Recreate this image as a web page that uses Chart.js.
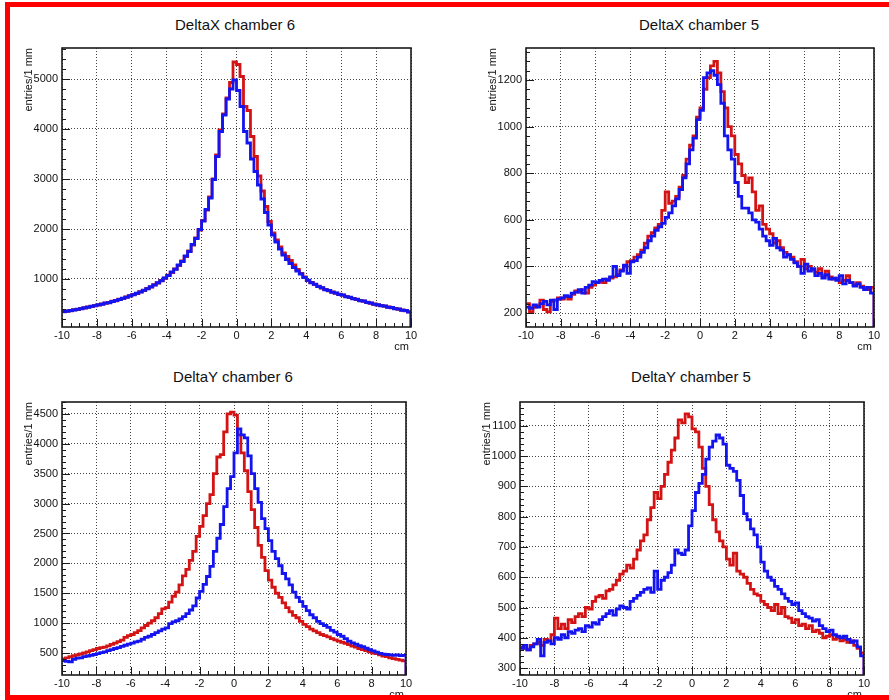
<!DOCTYPE html>
<html>
<head>
<meta charset="utf-8">
<script src="https://cdn.jsdelivr.net/npm/chart.js@4.4.0/dist/chart.umd.min.js"></script>
<style>
  body { margin: 0; background: #fff; width: 889px; height: 700px; overflow: hidden; position: relative;
         font-family: 'Liberation Sans', Arial, sans-serif; }
  .panel { position: absolute; }
  .title { position: absolute; width: 300px; font-size: 15px; line-height: 18px; color: #111; text-align: center; }
  .frame { position: absolute; left: 5px; top: 2px; width: 900px; height: 698px; box-sizing: border-box;
           border: 5px solid #ff0000; z-index: 5; pointer-events: none; }
</style>
</head>
<body>
<div class="frame"></div>
<div class="title" id="t0" style="left:85px;top:16px"></div>
<div class="title" id="t1" style="left:549px;top:16px"></div>
<div class="title" id="t2" style="left:83px;top:368px"></div>
<div class="title" id="t3" style="left:541px;top:368px"></div>
<canvas class="panel" id="c0" width="430" height="324" style="left:10px;top:36px"></canvas>
<canvas class="panel" id="c1" width="444" height="324" style="left:445px;top:36px"></canvas>
<canvas class="panel" id="c2" width="430" height="310" style="left:10px;top:390px"></canvas>
<canvas class="panel" id="c3" width="444" height="310" style="left:445px;top:390px"></canvas>
<script>
// histogram bins: 100 bins from -10 to 10 cm
const binLow = -10;
const binWidth = 0.2;
const xTicks = [-10, -8, -6, -4, -2, 0, 2, 4, 6, 8, 10];

const titles = ['DeltaX chamber 6', 'DeltaX chamber 5', 'DeltaY chamber 6', 'DeltaY chamber 5'];
const yTitle = 'entries/1 mm';
const xTitle = 'cm';

const dx6Ticks = [1000, 2000, 3000, 4000, 5000];
const dx5Ticks = [200, 400, 600, 800, 1000, 1200];
const dy6Ticks = [500, 1000, 1500, 2000, 2500, 3000, 3500, 4000, 4500];
const dy5Ticks = [300, 400, 500, 600, 700, 800, 900, 1000, 1100];

const dx6Red = [345,360,365,385,390,410,420,440,450,470,
  480,500,515,530,555,565,595,610,640,660,
  690,710,745,770,810,840,885,920,970,1015,
  1075,1130,1200,1270,1360,1450,1560,1680,1820,1980,
  2170,2380,2640,3000,3480,3980,4300,4620,4930,5340,
  5290,5050,4450,4370,3850,3450,3060,2760,2450,2150,
  1920,1780,1640,1520,1450,1370,1280,1190,1110,1040,
  970,930,890,855,820,790,765,740,715,695,
  675,650,630,610,590,570,555,535,515,500,
  480,470,455,440,425,410,395,380,365,345];
const dx6Blue = [350,355,370,380,395,405,425,435,455,465,
  485,495,520,525,550,570,590,615,635,665,
  685,715,740,775,805,845,880,925,965,1020,
  1070,1140,1195,1280,1350,1460,1550,1690,1810,1990,
  2160,2390,2620,2990,3450,3950,4280,4600,4800,4980,
  4770,4450,3950,3720,3400,3150,2880,2600,2330,2080,
  1880,1740,1600,1480,1390,1310,1230,1160,1100,1030,
  975,925,895,850,825,785,770,735,720,690,
  680,645,635,605,595,565,560,530,520,495,
  485,465,460,435,430,405,400,375,370,340];

const dx5Red = [240,205,225,230,255,215,205,250,255,265,
  260,270,260,280,295,290,300,285,310,320,
  330,335,330,345,350,355,365,385,400,420,
  425,440,450,470,500,530,545,565,580,640,
  720,670,680,700,740,790,860,920,960,1040,
  1080,1160,1210,1260,1280,1230,1150,1080,1000,960,
  880,840,790,760,780,720,640,660,580,560,
  540,500,510,480,460,450,440,420,400,430,
  390,400,385,375,390,360,380,355,345,350,
  330,340,360,330,320,330,315,310,300,310];
const dx5Blue = [225,220,235,225,240,250,235,255,215,260,
  265,275,270,285,290,300,285,310,320,335,
  330,340,345,340,355,400,360,380,405,370,
  420,425,440,460,480,510,530,555,570,585,
  610,630,660,690,730,780,840,900,950,1030,
  1070,1210,1230,1240,1220,1180,1100,960,900,860,
  760,700,650,650,630,600,590,560,530,510,
  490,520,480,470,440,450,430,415,400,370,
  410,380,390,360,370,350,365,345,350,340,
  360,325,340,330,315,325,310,300,310,285];

const dy6Red = [400,420,440,455,470,485,500,520,540,555,
  575,590,600,620,645,665,690,715,760,790,
  810,840,875,920,960,1000,1040,1090,1160,1240,
  1260,1350,1450,1520,1640,1790,1900,2050,2200,2450,
  2620,2800,3000,3150,3500,3780,3820,4200,4500,4530,
  4480,4150,3850,3550,3200,2900,2600,2300,2100,1880,
  1720,1600,1500,1430,1340,1260,1190,1130,1090,1030,
  980,940,900,870,840,810,790,770,740,720,
  700,680,660,640,615,600,575,555,540,520,
  500,490,470,450,440,420,405,395,380,370];
const dy6Blue = [370,360,350,395,415,420,440,450,460,475,
  490,505,520,540,555,575,590,610,630,650,
  665,685,700,730,760,780,810,840,870,900,
  920,990,1020,1040,1070,1110,1160,1220,1290,1420,
  1530,1650,1780,1950,2200,2420,2650,2950,3250,3450,
  3850,4250,4150,4100,3800,3500,3250,3020,2750,2580,
  2380,2200,2080,1960,1830,1740,1640,1520,1430,1360,
  1280,1210,1140,1090,1030,990,960,930,880,850,
  810,780,740,700,670,650,625,605,580,555,
  535,515,495,480,475,470,460,470,455,460];

const dy5Red = [370,365,360,375,380,385,375,395,390,410,
  465,430,445,430,460,450,470,480,470,500,
  495,520,535,540,530,555,560,575,590,610,
  620,640,630,660,690,720,740,790,830,880,
  860,900,940,980,1020,1060,1120,1110,1140,1130,
  1090,1080,1030,960,900,840,790,750,720,700,
  660,640,680,620,610,600,580,560,545,540,
  520,510,500,490,510,480,500,470,465,450,
  460,440,445,430,440,420,425,415,400,405,
  410,395,400,390,395,385,390,375,365,350];
const dy5Blue = [365,375,360,370,380,395,340,385,390,380,
  400,395,410,400,420,415,425,430,420,440,
  435,450,445,460,470,480,490,475,495,505,
  500,495,520,530,540,550,560,565,550,620,
  560,590,600,615,640,690,680,675,690,770,
  820,880,910,940,990,1030,1050,1070,1060,1040,
  970,960,950,920,870,810,790,760,740,700,
  650,620,600,590,570,560,545,530,520,510,
  515,490,480,470,465,455,460,440,430,420,
  425,410,405,400,405,395,385,390,370,340];

const panels = [
  { id: 'c0', red: dx6Red, blue: dx6Blue, yMin: 40, yMax: 5620, yTicks: dx6Ticks, yMinor: 200,
    box: [10, 36, 440, 360], plot: [62, 48, 411, 327] },
  { id: 'c1', red: dx5Red, blue: dx5Blue, yMin: 140, yMax: 1337, yTicks: dx5Ticks, yMinor: 40,
    box: [445, 36, 889, 360], plot: [526, 48, 874, 327] },
  { id: 'c2', red: dy6Red, blue: dy6Blue, yMin: 132, yMax: 4700, yTicks: dy6Ticks, yMinor: 100,
    box: [10, 390, 440, 700], plot: [62, 402, 406, 675] },
  { id: 'c3', red: dy5Red, blue: dy5Blue, yMin: 277, yMax: 1179, yTicks: dy5Ticks, yMinor: 20,
    box: [445, 390, 889, 700], plot: [520, 402, 864, 675] }
];

const fontFamily = "'Liberation Sans', Arial, sans-serif";
Chart.defaults.font.family = fontFamily;

// bin centres, closed at both ends, dropping to zero after the last bin like ROOT
function histPoints(vals) {
  const pts = [{ x: binLow, y: vals[0] }];
  vals.forEach((v, i) => pts.push({ x: binLow + (i + 0.5) * binWidth, y: v }));
  const end = binLow + vals.length * binWidth;
  pts.push({ x: end, y: vals[vals.length - 1] });
  pts.push({ x: end, y: 0 });
  return pts;
}

// frame, inside tick marks and axis titles
const histFrame = {
  id: 'histFrame',
  afterDraw(chart, args, opts) {
    const ctx = chart.ctx;
    const a = chart.chartArea;
    const xs = chart.scales.x;
    const ys = chart.scales.y;
    ctx.save();
    ctx.strokeStyle = '#1a1a1a';
    ctx.lineWidth = 1;
    ctx.beginPath();
    const nx = Math.round((xs.max - xs.min) / opts.xMinor);
    for (let k = 0; k <= nx; k++) {
      const v = xs.min + k * opts.xMinor;
      const px = Math.round(xs.getPixelForValue(v)) + 0.5;
      const len = xTicks.some(t => Math.abs(t - v) < 1e-6) ? 8 : 4;
      ctx.moveTo(px, a.bottom);
      ctx.lineTo(px, a.bottom - len);
    }
    const first = opts.yTicks[0];
    const start = first - Math.floor((first - ys.min) / opts.yMinor) * opts.yMinor;
    for (let k = 0; start + k * opts.yMinor <= ys.max; k++) {
      const v = start + k * opts.yMinor;
      const py = Math.round(ys.getPixelForValue(v)) + 0.5;
      const len = opts.yTicks.some(t => Math.abs(t - v) < 1e-6) ? 8 : 4;
      ctx.moveTo(a.left, py);
      ctx.lineTo(a.left + len, py);
    }
    ctx.stroke();
    ctx.lineWidth = 1.6;
    ctx.strokeRect(a.left, a.top, a.right - a.left, a.bottom - a.top);

    ctx.fillStyle = '#111';
    ctx.font = '11px ' + fontFamily;
    ctx.textBaseline = 'middle';
    ctx.textAlign = 'right';
    ctx.fillText(xTitle, a.right - 2, a.bottom + 20);
    ctx.translate(a.left - 33, a.top);
    ctx.rotate(-Math.PI / 2);
    ctx.fillText(yTitle, 0, 0);
    ctx.restore();
  }
};

panels.forEach((p, idx) => {
  document.getElementById('t' + idx).textContent = titles[idx];
  const [bl, bt, br, bb] = p.box;
  const [pl, pt, pr, pb] = p.plot;
  new Chart(document.getElementById(p.id), {
    type: 'line',
    data: {
      datasets: [
        { label: 'blue', data: histPoints(p.blue), borderColor: '#1414f0', borderWidth: 2.8,
          stepped: 'middle', pointRadius: 0, fill: false },
        { label: 'red', data: histPoints(p.red), borderColor: '#d41414', borderWidth: 2.8,
          stepped: 'middle', pointRadius: 0, fill: false }
      ]
    },
    options: {
      responsive: false,
      animation: false,
      devicePixelRatio: 1,
      layout: { padding: { left: 0, top: pt - bt, right: br - pr, bottom: 0 } },
      plugins: {
        legend: { display: false },
        tooltip: { enabled: false },
        histFrame: { xMinor: 0.5, yTicks: p.yTicks, yMinor: p.yMinor }
      },
      scales: {
        x: {
          type: 'linear', min: -10, max: 10,
          afterBuildTicks: s => { s.ticks = xTicks.map(v => ({ value: v })); },
          afterFit: s => { s.height = bb - pb; },
          ticks: { color: '#111', font: { size: 11 }, padding: 2, maxRotation: 0,
                   autoSkip: false, callback: v => String(v) },
          grid: { color: '#444', lineWidth: 1, drawTicks: false },
          border: { display: false, dash: [1, 2] }
        },
        y: {
          type: 'linear', min: p.yMin, max: p.yMax,
          afterBuildTicks: s => { s.ticks = p.yTicks.map(v => ({ value: v })); },
          afterFit: s => { s.width = pl - bl; },
          ticks: { color: '#111', font: { size: 11 }, padding: 4, autoSkip: false,
                   callback: v => String(v) },
          grid: { color: '#444', lineWidth: 1, drawTicks: false },
          border: { display: false, dash: [1, 2] }
        }
      }
    },
    plugins: [histFrame]
  });
});
</script>
</body>
</html>
